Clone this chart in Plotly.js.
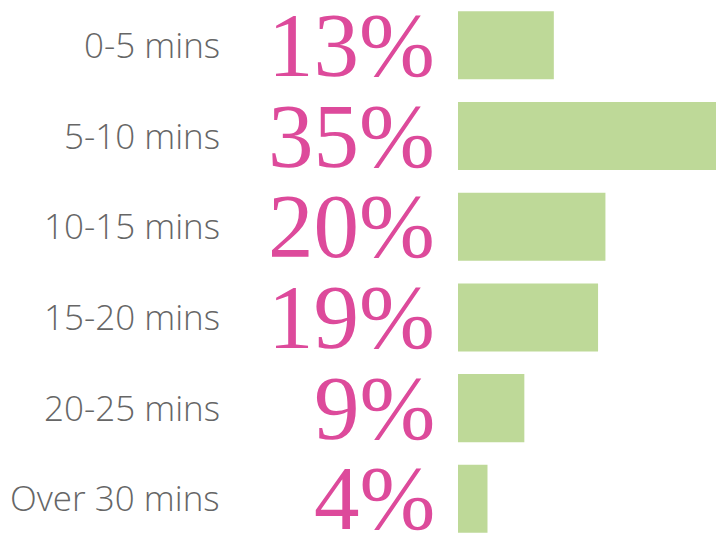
<!DOCTYPE html>
<html>
<head>
<meta charset="utf-8">
<script src="https://cdn.plot.ly/plotly-3.0.1.min.js"></script>
<style>html,body{margin:0;padding:0;background:#fff;}#chart{width:716px;height:533px;}</style>
</head>
<body>
<div id="chart"></div>
<script>
const categories = ["0-5 mins", "5-10 mins", "10-15 mins", "15-20 mins", "20-25 mins", "Over 30 mins"];
const percentages = [13, 35, 20, 19, 9, 4];
const percentLabels = ["13%", "35%", "20%", "19%", "9%", "4%"];

const annotations = [];
categories.forEach((c, i) => {
  annotations.push({
    xref: 'paper', yref: 'y', x: -0.083, y: c, text: percentLabels[i],
    xanchor: 'right', yanchor: 'middle', showarrow: false,
    font: {family: 'Liberation Serif, serif', size: 91, color: '#DD4A9B'}, yshift: 0
  });
  annotations.push({
    xref: 'paper', yref: 'y', x: -0.9147, y: c, text: c,
    xanchor: 'right', yanchor: 'middle', showarrow: false,
    font: {family: 'Open Sans, sans-serif', size: 35, color: '#666666', weight: 300}, yshift: 1
  });
});

Plotly.newPlot('chart', [{
  type: 'bar', orientation: 'h', y: categories, x: percentages,
  marker: {color: '#BED998'}, width: 0.75, hoverinfo: 'none'
}], {
  width: 716, height: 533,
  margin: {l: 458, r: 0, t: 0, b: 0},
  paper_bgcolor: '#ffffff', plot_bgcolor: '#ffffff',
  xaxis: {range: [0, 35], visible: false, fixedrange: true},
  yaxis: {type: 'category', range: [5.377, -0.5], visible: false, fixedrange: true},
  showlegend: false,
  annotations: annotations
}, {staticPlot: true});
</script>
</body>
</html>
